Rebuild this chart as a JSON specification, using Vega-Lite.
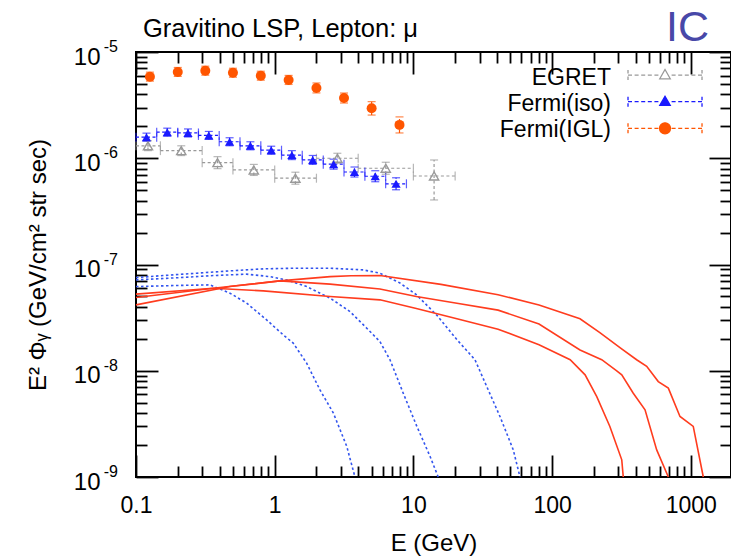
{
  "$schema": "https://vega.github.io/schema/vega-lite/v6.json",
  "width": 595,
  "height": 425,
  "autosize": {"type": "none"},
  "padding": {"left": 136, "top": 52, "right": 0, "bottom": 82},
  "background": "white",
  "config": {
    "font": "Liberation Sans",
    "view": {"stroke": "black", "strokeWidth": 2},
    "axis": {
      "grid": false,
      "domain": false,
      "labelFont": "Liberation Sans",
      "labelFontSize": 23,
      "labelColor": "black",
      "tickColor": "black",
      "tickWidth": 1.8,
      "titleFont": "Liberation Sans",
      "titleFontSize": 24,
      "titleFontWeight": "normal",
      "titleColor": "black",
      "labelFlush": false,
      "labelOverlap": false
    }
  },
  "datasets": {
    "pts": [
      {"series": "EGRET", "E": 0.122, "Elo": 0.1, "Ehi": 0.15, "F": 1.31e-6, "Flo": 1.18e-6, "Fhi": 1.46e-6},
      {"series": "EGRET", "E": 0.212, "Elo": 0.15, "Ehi": 0.3, "F": 1.18e-6, "Flo": 1.06e-6, "Fhi": 1.31e-6},
      {"series": "EGRET", "E": 0.387, "Elo": 0.3, "Ehi": 0.5, "F": 9.09e-7, "Flo": 7.98e-7, "Fhi": 1.035e-6},
      {"series": "EGRET", "E": 0.707, "Elo": 0.5, "Ehi": 1, "F": 7.76e-7, "Flo": 6.89e-7, "Fhi": 8.75e-7},
      {"series": "EGRET", "E": 1.41, "Elo": 1, "Ehi": 2, "F": 6.49e-7, "Flo": 5.7e-7, "Fhi": 7.39e-7},
      {"series": "EGRET", "E": 2.83, "Elo": 2, "Ehi": 4, "F": 1.0e-6, "Flo": 8.98e-7, "Fhi": 1.114e-6},
      {"series": "EGRET", "E": 6.32, "Elo": 4, "Ehi": 10, "F": 8.05e-7, "Flo": 7.07e-7, "Fhi": 9.17e-7},
      {"series": "EGRET", "E": 14.1, "Elo": 10, "Ehi": 20, "F": 6.81e-7, "Flo": 4.05e-7, "Fhi": 9.63e-7},
      {"series": "Fermi(iso)", "E": 0.119, "Elo": 0.1, "Ehi": 0.141, "F": 1.58e-6, "Flo": 1.449e-6, "Fhi": 1.723e-6},
      {"series": "Fermi(iso)", "E": 0.168, "Elo": 0.141, "Ehi": 0.2, "F": 1.76e-6, "Flo": 1.614e-6, "Fhi": 1.919e-6},
      {"series": "Fermi(iso)", "E": 0.237, "Elo": 0.2, "Ehi": 0.282, "F": 1.73e-6, "Flo": 1.586e-6, "Fhi": 1.887e-6},
      {"series": "Fermi(iso)", "E": 0.335, "Elo": 0.282, "Ehi": 0.398, "F": 1.64e-6, "Flo": 1.504e-6, "Fhi": 1.788e-6},
      {"series": "Fermi(iso)", "E": 0.473, "Elo": 0.398, "Ehi": 0.562, "F": 1.43e-6, "Flo": 1.311e-6, "Fhi": 1.559e-6},
      {"series": "Fermi(iso)", "E": 0.668, "Elo": 0.562, "Ehi": 0.794, "F": 1.31e-6, "Flo": 1.201e-6, "Fhi": 1.429e-6},
      {"series": "Fermi(iso)", "E": 0.944, "Elo": 0.794, "Ehi": 1.12, "F": 1.19e-6, "Flo": 1.091e-6, "Fhi": 1.298e-6},
      {"series": "Fermi(iso)", "E": 1.33, "Elo": 1.12, "Ehi": 1.58, "F": 1.07e-6, "Flo": 9.71e-7, "Fhi": 1.179e-6},
      {"series": "Fermi(iso)", "E": 1.88, "Elo": 1.58, "Ehi": 2.24, "F": 9.64e-7, "Flo": 8.75e-7, "Fhi": 1.062e-6},
      {"series": "Fermi(iso)", "E": 2.66, "Elo": 2.24, "Ehi": 3.16, "F": 8.8e-7, "Flo": 7.9e-7, "Fhi": 9.8e-7},
      {"series": "Fermi(iso)", "E": 3.76, "Elo": 3.16, "Ehi": 4.47, "F": 7.42e-7, "Flo": 6.66e-7, "Fhi": 8.27e-7},
      {"series": "Fermi(iso)", "E": 5.31, "Elo": 4.47, "Ehi": 6.31, "F": 6.77e-7, "Flo": 6.01e-7, "Fhi": 7.63e-7},
      {"series": "Fermi(iso)", "E": 7.5, "Elo": 6.31, "Ehi": 8.91, "F": 5.75e-7, "Flo": 5.05e-7, "Fhi": 6.55e-7},
      {"series": "Fermi(IGL)", "E": 0.126, "F": 5.86e-6, "Flo": 5.32e-6, "Fhi": 6.46e-6},
      {"series": "Fermi(IGL)", "E": 0.2, "F": 6.49e-6, "Flo": 5.89e-6, "Fhi": 7.15e-6},
      {"series": "Fermi(IGL)", "E": 0.316, "F": 6.67e-6, "Flo": 6.05e-6, "Fhi": 7.35e-6},
      {"series": "Fermi(IGL)", "E": 0.5, "F": 6.38e-6, "Flo": 5.79e-6, "Fhi": 7.03e-6},
      {"series": "Fermi(IGL)", "E": 0.794, "F": 5.98e-6, "Flo": 5.43e-6, "Fhi": 6.59e-6},
      {"series": "Fermi(IGL)", "E": 1.26, "F": 5.46e-6, "Flo": 4.95e-6, "Fhi": 6.02e-6},
      {"series": "Fermi(IGL)", "E": 2.0, "F": 4.59e-6, "Flo": 4.12e-6, "Fhi": 5.11e-6},
      {"series": "Fermi(IGL)", "E": 3.16, "F": 3.69e-6, "Flo": 3.31e-6, "Fhi": 4.11e-6},
      {"series": "Fermi(IGL)", "E": 5.0, "F": 2.95e-6, "Flo": 2.55e-6, "Fhi": 3.41e-6},
      {"series": "Fermi(IGL)", "E": 7.94, "F": 2.06e-6, "Flo": 1.73e-6, "Fhi": 2.45e-6}
    ],
    "curves": [
      {"curve": "bA", "kind": "blue", "E": 0.1, "F": 6.2e-8},
      {"curve": "bA", "kind": "blue", "E": 0.2, "F": 6.35e-8},
      {"curve": "bA", "kind": "blue", "E": 0.342, "F": 6.43e-8},
      {"curve": "bA", "kind": "blue", "E": 0.476, "F": 5.37e-8},
      {"curve": "bA", "kind": "blue", "E": 0.628, "F": 4.33e-8},
      {"curve": "bA", "kind": "blue", "E": 0.875, "F": 3.01e-8},
      {"curve": "bA", "kind": "blue", "E": 1.15, "F": 2.18e-8},
      {"curve": "bA", "kind": "blue", "E": 1.36, "F": 1.82e-8},
      {"curve": "bA", "kind": "blue", "E": 1.7, "F": 1.18e-8},
      {"curve": "bA", "kind": "blue", "E": 2.12, "F": 6.61e-9},
      {"curve": "bA", "kind": "blue", "E": 2.65, "F": 3.99e-9},
      {"curve": "bA", "kind": "blue", "E": 3.31, "F": 1.94e-9},
      {"curve": "bA", "kind": "blue", "E": 3.79, "F": 1.0e-9},
      {"curve": "bB", "kind": "blue", "E": 0.1, "F": 7.16e-8},
      {"curve": "bB", "kind": "blue", "E": 0.208, "F": 7.53e-8},
      {"curve": "bB", "kind": "blue", "E": 0.361, "F": 7.87e-8},
      {"curve": "bB", "kind": "blue", "E": 0.628, "F": 8.11e-8},
      {"curve": "bB", "kind": "blue", "E": 0.925, "F": 7.69e-8},
      {"curve": "bB", "kind": "blue", "E": 1.22, "F": 7.16e-8},
      {"curve": "bB", "kind": "blue", "E": 1.7, "F": 6.2e-8},
      {"curve": "bB", "kind": "blue", "E": 2.51, "F": 4.82e-8},
      {"curve": "bB", "kind": "blue", "E": 3.49, "F": 3.61e-8},
      {"curve": "bB", "kind": "blue", "E": 4.87, "F": 2.34e-8},
      {"curve": "bB", "kind": "blue", "E": 5.74, "F": 1.88e-8},
      {"curve": "bB", "kind": "blue", "E": 6.78, "F": 1.27e-8},
      {"curve": "bB", "kind": "blue", "E": 8.45, "F": 6.15e-9},
      {"curve": "bB", "kind": "blue", "E": 10.6, "F": 2.99e-9},
      {"curve": "bB", "kind": "blue", "E": 13.2, "F": 1.56e-9},
      {"curve": "bB", "kind": "blue", "E": 15.1, "F": 1.0e-9},
      {"curve": "bC", "kind": "blue", "E": 0.1, "F": 7.53e-8},
      {"curve": "bC", "kind": "blue", "E": 0.157, "F": 7.87e-8},
      {"curve": "bC", "kind": "blue", "E": 0.274, "F": 8.28e-8},
      {"curve": "bC", "kind": "blue", "E": 0.476, "F": 8.71e-8},
      {"curve": "bC", "kind": "blue", "E": 0.828, "F": 9.1e-8},
      {"curve": "bC", "kind": "blue", "E": 1.44, "F": 9.23e-8},
      {"curve": "bC", "kind": "blue", "E": 2.51, "F": 9.23e-8},
      {"curve": "bC", "kind": "blue", "E": 4.35, "F": 8.89e-8},
      {"curve": "bC", "kind": "blue", "E": 5.74, "F": 8.28e-8},
      {"curve": "bC", "kind": "blue", "E": 8.0, "F": 6.7e-8},
      {"curve": "bC", "kind": "blue", "E": 10.5, "F": 5.2e-8},
      {"curve": "bC", "kind": "blue", "E": 14.8, "F": 3.32e-8},
      {"curve": "bC", "kind": "blue", "E": 20.6, "F": 1.96e-8},
      {"curve": "bC", "kind": "blue", "E": 27.8, "F": 1.27e-8},
      {"curve": "bC", "kind": "blue", "E": 33.8, "F": 7.1e-9},
      {"curve": "bC", "kind": "blue", "E": 42.1, "F": 3.71e-9},
      {"curve": "bC", "kind": "blue", "E": 52.5, "F": 1.8e-9},
      {"curve": "bC", "kind": "blue", "E": 58.7, "F": 1.0e-9},
      {"curve": "rA", "kind": "red", "E": 0.1, "F": 5.26e-8},
      {"curve": "rA", "kind": "red", "E": 0.361, "F": 5.98e-8},
      {"curve": "rA", "kind": "red", "E": 0.828, "F": 5.65e-8},
      {"curve": "rA", "kind": "red", "E": 2.51, "F": 4.99e-8},
      {"curve": "rA", "kind": "red", "E": 5.74, "F": 4.65e-8},
      {"curve": "rA", "kind": "red", "E": 10.5, "F": 3.86e-8},
      {"curve": "rA", "kind": "red", "E": 20.6, "F": 3.08e-8},
      {"curve": "rA", "kind": "red", "E": 40.8, "F": 2.46e-8},
      {"curve": "rA", "kind": "red", "E": 80.5, "F": 1.76e-8},
      {"curve": "rA", "kind": "red", "E": 135, "F": 1.27e-8},
      {"curve": "rA", "kind": "red", "E": 173, "F": 9.15e-9},
      {"curve": "rA", "kind": "red", "E": 210, "F": 5.71e-9},
      {"curve": "rA", "kind": "red", "E": 261, "F": 2.99e-9},
      {"curve": "rA", "kind": "red", "E": 318, "F": 1.45e-9},
      {"curve": "rA", "kind": "red", "E": 326, "F": 1.0e-9},
      {"curve": "rB", "kind": "red", "E": 0.1, "F": 4.89e-8},
      {"curve": "rB", "kind": "red", "E": 0.361, "F": 5.98e-8},
      {"curve": "rB", "kind": "red", "E": 1.09, "F": 7.01e-8},
      {"curve": "rB", "kind": "red", "E": 2.51, "F": 6.53e-8},
      {"curve": "rB", "kind": "red", "E": 5.74, "F": 5.89e-8},
      {"curve": "rB", "kind": "red", "E": 10.5, "F": 5.0e-8},
      {"curve": "rB", "kind": "red", "E": 20.6, "F": 4.32e-8},
      {"curve": "rB", "kind": "red", "E": 40.8, "F": 3.72e-8},
      {"curve": "rB", "kind": "red", "E": 80.5, "F": 2.75e-8},
      {"curve": "rB", "kind": "red", "E": 159, "F": 1.57e-8},
      {"curve": "rB", "kind": "red", "E": 228, "F": 1.27e-8},
      {"curve": "rB", "kind": "red", "E": 291, "F": 1.005e-8},
      {"curve": "rB", "kind": "red", "E": 318, "F": 9.15e-9},
      {"curve": "rB", "kind": "red", "E": 385, "F": 6.15e-9},
      {"curve": "rB", "kind": "red", "E": 468, "F": 4.29e-9},
      {"curve": "rB", "kind": "red", "E": 568, "F": 1.8e-9},
      {"curve": "rB", "kind": "red", "E": 689, "F": 1.0e-9},
      {"curve": "rC", "kind": "red", "E": 0.1, "F": 4.17e-8},
      {"curve": "rC", "kind": "red", "E": 0.476, "F": 6.2e-8},
      {"curve": "rC", "kind": "red", "E": 1.09, "F": 7.01e-8},
      {"curve": "rC", "kind": "red", "E": 2.51, "F": 7.69e-8},
      {"curve": "rC", "kind": "red", "E": 3.55, "F": 7.83e-8},
      {"curve": "rC", "kind": "red", "E": 5.74, "F": 7.87e-8},
      {"curve": "rC", "kind": "red", "E": 15.8, "F": 6.5e-8},
      {"curve": "rC", "kind": "red", "E": 40.8, "F": 5.2e-8},
      {"curve": "rC", "kind": "red", "E": 80.5, "F": 4.15e-8},
      {"curve": "rC", "kind": "red", "E": 159, "F": 3.08e-8},
      {"curve": "rC", "kind": "red", "E": 221, "F": 2.28e-8},
      {"curve": "rC", "kind": "red", "E": 312, "F": 1.63e-8},
      {"curve": "rC", "kind": "red", "E": 407, "F": 1.27e-8},
      {"curve": "rC", "kind": "red", "E": 481, "F": 1.1e-8},
      {"curve": "rC", "kind": "red", "E": 583, "F": 7.91e-9},
      {"curve": "rC", "kind": "red", "E": 689, "F": 6.86e-9},
      {"curve": "rC", "kind": "red", "E": 836, "F": 3.71e-9},
      {"curve": "rC", "kind": "red", "E": 1042, "F": 2.99e-9},
      {"curve": "rC", "kind": "red", "E": 1231, "F": 1.0e-9}
    ],
    "exps": [
      {"v": 1e-9, "sup": "-9"},
      {"v": 1e-8, "sup": "-8"},
      {"v": 1e-7, "sup": "-7"},
      {"v": 1e-6, "sup": "-6"},
      {"v": 1e-5, "sup": "-5"}
    ],
    "legend": [
      {"series": "EGRET"},
      {"series": "Fermi(iso)"},
      {"series": "Fermi(IGL)"}
    ]
  },
  "layer": [
    {
      "data": {"name": "curves"},
      "transform": [{"filter": "datum.kind === 'blue'"}],
      "mark": {"type": "line", "strokeDash": [2.5, 2.5], "strokeWidth": 1.6, "color": "#3355ee"},
      "encoding": {
        "x": {
          "field": "E", "type": "quantitative",
          "scale": {"type": "log", "domain": [0.1, 1950], "nice": false},
          "axis": {
            "orient": "bottom",
            "values": [0.1, 0.2, 0.3, 0.4, 0.5, 0.6, 0.7, 0.8, 0.9, 1, 2, 3, 4, 5, 6, 7, 8, 9, 10, 20, 30, 40, 50, 60, 70, 80, 90, 100, 200, 300, 400, 500, 600, 700, 800, 900, 1000],
            "labelExpr": "abs(log(datum.value)/LN10 - round(log(datum.value)/LN10)) < 0.01 ? (datum.value < 0.5 ? '0.1' : format(datum.value, 'd')) : ''",
            "tickSize": {"condition": {"test": "abs(log(datum.value)/LN10 - round(log(datum.value)/LN10)) < 0.01", "value": -22}, "value": -11},
            "labelPadding": 39,
            "labelBaseline": "top",
            "title": "E (GeV)",
            "titleX": 297.5,
            "titleY": 73,
            "titleAlign": "center",
            "titleBaseline": "alphabetic"
          }
        },
        "y": {
          "field": "F", "type": "quantitative",
          "scale": {"type": "log", "domain": [1e-9, 1e-5], "nice": false},
          "axis": {
            "orient": "left",
            "values": [1e-9, 2e-9, 3e-9, 4e-9, 5e-9, 6e-9, 7e-9, 8e-9, 9e-9, 1e-8, 2e-8, 3e-8, 4e-8, 5e-8, 6e-8, 7e-8, 8e-8, 9e-8, 1e-7, 2e-7, 3e-7, 4e-7, 5e-7, 6e-7, 7e-7, 8e-7, 9e-7, 1e-6, 2e-6, 3e-6, 4e-6, 5e-6, 6e-6, 7e-6, 8e-6, 9e-6, 1e-5],
            "labelExpr": "abs(log(datum.value)/LN10 - round(log(datum.value)/LN10)) < 0.01 ? '10' : ''",
            "tickSize": {"condition": {"test": "abs(log(datum.value)/LN10 - round(log(datum.value)/LN10)) < 0.01", "value": -22}, "value": -11},
            "labelPadding": 58,
            "labelBaseline": "alphabetic",
            "labelOffset": 12,
            "labelFontSize": 24,
            "title": "E² Φᵧ (GeV/cm² str sec)",
            "titleX": -91,
            "titleY": 212.5,
            "titleAngle": -90,
            "titleAlign": "center",
            "titleBaseline": "alphabetic"
          }
        },
        "detail": {"field": "curve"}
      }
    },
    {
      "data": {"name": "curves"},
      "transform": [{"filter": "datum.kind === 'red'"}],
      "mark": {"type": "line", "strokeWidth": 1.6, "color": "#ff3c1e"},
      "encoding": {
        "x": {
          "field": "E", "type": "quantitative",
          "scale": {"type": "log", "domain": [0.1, 1950], "nice": false},
          "axis": {
            "orient": "top",
            "values": [0.1, 0.2, 0.3, 0.4, 0.5, 0.6, 0.7, 0.8, 0.9, 1, 2, 3, 4, 5, 6, 7, 8, 9, 10, 20, 30, 40, 50, 60, 70, 80, 90, 100, 200, 300, 400, 500, 600, 700, 800, 900, 1000],
            "labels": false,
            "title": null,
            "tickSize": {"condition": {"test": "abs(log(datum.value)/LN10 - round(log(datum.value)/LN10)) < 0.01", "value": -22}, "value": -11}
          }
        },
        "y": {
          "field": "F", "type": "quantitative",
          "scale": {"type": "log", "domain": [1e-9, 1e-5], "nice": false},
          "axis": {
            "orient": "right",
            "values": [1e-9, 2e-9, 3e-9, 4e-9, 5e-9, 6e-9, 7e-9, 8e-9, 9e-9, 1e-8, 2e-8, 3e-8, 4e-8, 5e-8, 6e-8, 7e-8, 8e-8, 9e-8, 1e-7, 2e-7, 3e-7, 4e-7, 5e-7, 6e-7, 7e-7, 8e-7, 9e-7, 1e-6, 2e-6, 3e-6, 4e-6, 5e-6, 6e-6, 7e-6, 8e-6, 9e-6, 1e-5],
            "labels": false,
            "title": null,
            "tickSize": {"condition": {"test": "abs(log(datum.value)/LN10 - round(log(datum.value)/LN10)) < 0.01", "value": -22}, "value": -11}
          }
        },
        "detail": {"field": "curve"}
      }
    },
    {
      "data": {"name": "pts"},
      "transform": [{"filter": "isValid(datum.Elo)"}],
      "mark": {"type": "rule", "strokeDash": [3, 2.5], "strokeWidth": 1.2},
      "encoding": {
        "x": {"field": "Elo", "type": "quantitative", "scale": {"type": "log", "domain": [0.1, 1950], "nice": false}, "axis": null},
        "x2": {"field": "Ehi"},
        "y": {"field": "F", "type": "quantitative", "scale": {"type": "log", "domain": [1e-9, 1e-5], "nice": false}, "axis": null},
        "color": {"field": "series", "type": "nominal", "scale": {"domain": ["EGRET", "Fermi(iso)", "Fermi(IGL)"], "range": ["#999999", "#1a1aff", "#ff5500"]}, "legend": null}
      }
    },
    {
      "data": {"name": "pts"},
      "mark": {"type": "rule", "strokeDash": [3, 2.5], "strokeWidth": 1.2},
      "encoding": {
        "x": {"field": "E", "type": "quantitative", "scale": {"type": "log", "domain": [0.1, 1950], "nice": false}, "axis": null},
        "y": {"field": "Flo", "type": "quantitative", "scale": {"type": "log", "domain": [1e-9, 1e-5], "nice": false}, "axis": null},
        "y2": {"field": "Fhi"},
        "color": {"field": "series", "type": "nominal", "scale": {"domain": ["EGRET", "Fermi(iso)", "Fermi(IGL)"], "range": ["#999999", "#1a1aff", "#ff5500"]}, "legend": null}
      }
    },
    {
      "data": {"name": "pts"},
      "transform": [{"filter": "isValid(datum.Elo)"}],
      "mark": {"type": "tick", "orient": "vertical", "size": 9, "thickness": 1.2},
      "encoding": {
        "x": {"field": "Elo", "type": "quantitative", "scale": {"type": "log", "domain": [0.1, 1950], "nice": false}, "axis": null},
        "y": {"field": "F", "type": "quantitative", "scale": {"type": "log", "domain": [1e-9, 1e-5], "nice": false}, "axis": null},
        "color": {"field": "series", "type": "nominal", "scale": {"domain": ["EGRET", "Fermi(iso)", "Fermi(IGL)"], "range": ["#999999", "#1a1aff", "#ff5500"]}, "legend": null}
      }
    },
    {
      "data": {"name": "pts"},
      "transform": [{"filter": "isValid(datum.Elo)"}],
      "mark": {"type": "tick", "orient": "vertical", "size": 9, "thickness": 1.2},
      "encoding": {
        "x": {"field": "Ehi", "type": "quantitative", "scale": {"type": "log", "domain": [0.1, 1950], "nice": false}, "axis": null},
        "y": {"field": "F", "type": "quantitative", "scale": {"type": "log", "domain": [1e-9, 1e-5], "nice": false}, "axis": null},
        "color": {"field": "series", "type": "nominal", "scale": {"domain": ["EGRET", "Fermi(iso)", "Fermi(IGL)"], "range": ["#999999", "#1a1aff", "#ff5500"]}, "legend": null}
      }
    },
    {
      "data": {"name": "pts"},
      "mark": {"type": "tick", "orient": "horizontal", "size": 8, "thickness": 1.2},
      "encoding": {
        "x": {"field": "E", "type": "quantitative", "scale": {"type": "log", "domain": [0.1, 1950], "nice": false}, "axis": null},
        "y": {"field": "Flo", "type": "quantitative", "scale": {"type": "log", "domain": [1e-9, 1e-5], "nice": false}, "axis": null},
        "color": {"field": "series", "type": "nominal", "scale": {"domain": ["EGRET", "Fermi(iso)", "Fermi(IGL)"], "range": ["#999999", "#1a1aff", "#ff5500"]}, "legend": null}
      }
    },
    {
      "data": {"name": "pts"},
      "mark": {"type": "tick", "orient": "horizontal", "size": 8, "thickness": 1.2},
      "encoding": {
        "x": {"field": "E", "type": "quantitative", "scale": {"type": "log", "domain": [0.1, 1950], "nice": false}, "axis": null},
        "y": {"field": "Fhi", "type": "quantitative", "scale": {"type": "log", "domain": [1e-9, 1e-5], "nice": false}, "axis": null},
        "color": {"field": "series", "type": "nominal", "scale": {"domain": ["EGRET", "Fermi(iso)", "Fermi(IGL)"], "range": ["#999999", "#1a1aff", "#ff5500"]}, "legend": null}
      }
    },
    {
      "data": {"name": "pts"},
      "transform": [{"filter": "datum.series === 'EGRET'"}],
      "mark": {"type": "point", "shape": "triangle-up", "filled": false, "size": 85, "strokeWidth": 1.4, "color": "#999999", "opacity": 1},
      "encoding": {
        "x": {"field": "E", "type": "quantitative", "scale": {"type": "log", "domain": [0.1, 1950], "nice": false}, "axis": null},
        "y": {"field": "F", "type": "quantitative", "scale": {"type": "log", "domain": [1e-9, 1e-5], "nice": false}, "axis": null}
      }
    },
    {
      "data": {"name": "pts"},
      "transform": [{"filter": "datum.series === 'Fermi(iso)'"}],
      "mark": {"type": "point", "shape": "triangle-up", "filled": true, "size": 85, "color": "#1a1aff", "opacity": 1},
      "encoding": {
        "x": {"field": "E", "type": "quantitative", "scale": {"type": "log", "domain": [0.1, 1950], "nice": false}, "axis": null},
        "y": {"field": "F", "type": "quantitative", "scale": {"type": "log", "domain": [1e-9, 1e-5], "nice": false}, "axis": null}
      }
    },
    {
      "data": {"name": "pts"},
      "transform": [{"filter": "datum.series === 'Fermi(IGL)'"}],
      "mark": {"type": "point", "shape": "circle", "filled": true, "size": 100, "color": "#ff5500", "opacity": 1},
      "encoding": {
        "x": {"field": "E", "type": "quantitative", "scale": {"type": "log", "domain": [0.1, 1950], "nice": false}, "axis": null},
        "y": {"field": "F", "type": "quantitative", "scale": {"type": "log", "domain": [1e-9, 1e-5], "nice": false}, "axis": null}
      }
    },
    {
      "data": {"name": "legend"},
      "transform": [{"filter": "datum.series === 'EGRET'"}],
      "mark": {"type": "point", "filled": false, "size": 100, "strokeWidth": 1.3, "stroke": "#999999", "opacity": 1,
        "shape": "M-7.4,-1V-0.3M-7.4,0.3V1M7.4,-1V-0.3M7.4,0.3V1M-7.4,0H-6.6M-6.08,0H-5.28M-4.76,0H-3.96M-3.44,0H-2.64M-2.12,0H-1.32M1.32,0H2.12M2.64,0H3.44M3.96,0H4.76M5.28,0H6.08M6.6,0H7.4M0,-1.1L1.05,0.75L-1.05,0.75Z"},
      "encoding": {
        "x": {"datum": 652, "type": "quantitative", "scale": {"type": "log", "domain": [0.1, 1950], "nice": false}, "axis": null},
        "y": {"datum": 6.07e-6, "type": "quantitative", "scale": {"type": "log", "domain": [1e-9, 1e-5], "nice": false}, "axis": null}
      }
    },
    {
      "data": {"name": "legend"},
      "transform": [{"filter": "datum.series === 'Fermi(iso)'"}],
      "mark": {"type": "point", "filled": true, "size": 100, "strokeWidth": 1.3, "stroke": "#1a1aff", "fill": "#1a1aff", "opacity": 1,
        "shape": "M-7.4,-1V-0.3M-7.4,0.3V1M7.4,-1V-0.3M7.4,0.3V1M-7.4,0H-6.6M-6.08,0H-5.28M-4.76,0H-3.96M-3.44,0H-2.64M-2.12,0H-1.32M1.32,0H2.12M2.64,0H3.44M3.96,0H4.76M5.28,0H6.08M6.6,0H7.4M0,-1.1L1.05,0.75L-1.05,0.75Z"},
      "encoding": {
        "x": {"datum": 652, "type": "quantitative", "scale": {"type": "log", "domain": [0.1, 1950], "nice": false}, "axis": null},
        "y": {"datum": 3.405e-6, "type": "quantitative", "scale": {"type": "log", "domain": [1e-9, 1e-5], "nice": false}, "axis": null}
      }
    },
    {
      "data": {"name": "legend"},
      "transform": [{"filter": "datum.series === 'Fermi(IGL)'"}],
      "mark": {"type": "point", "filled": true, "size": 100, "strokeWidth": 1.3, "stroke": "#ff5500", "fill": "#ff5500", "opacity": 1,
        "shape": "M-7.4,-1V-0.3M-7.4,0.3V1M7.4,-1V-0.3M7.4,0.3V1M-7.4,0H-6.6M-6.08,0H-5.28M-4.76,0H-3.96M-3.44,0H-2.64M-2.12,0H-1.32M1.32,0H2.12M2.64,0H3.44M3.96,0H4.76M5.28,0H6.08M6.6,0H7.4M1.1,0A1.1,1.1,0,1,1,-1.1,0A1.1,1.1,0,1,1,1.1,0Z"},
      "encoding": {
        "x": {"datum": 652, "type": "quantitative", "scale": {"type": "log", "domain": [0.1, 1950], "nice": false}, "axis": null},
        "y": {"datum": 1.914e-6, "type": "quantitative", "scale": {"type": "log", "domain": [1e-9, 1e-5], "nice": false}, "axis": null}
      }
    },
    {
      "data": {"name": "legend"},
      "transform": [{"filter": "datum.series === 'EGRET'"}],
      "mark": {"type": "text", "align": "right", "baseline": "alphabetic", "fontSize": 23, "font": "Liberation Sans", "color": "black"},
      "encoding": {
        "x": {"datum": 265.9, "type": "quantitative", "scale": {"type": "log", "domain": [0.1, 1950], "nice": false}, "axis": null},
        "y": {"datum": 4.89e-6, "type": "quantitative", "scale": {"type": "log", "domain": [1e-9, 1e-5], "nice": false}, "axis": null},
        "text": {"field": "series"}
      }
    },
    {
      "data": {"name": "legend"},
      "transform": [{"filter": "datum.series === 'Fermi(iso)'"}],
      "mark": {"type": "text", "align": "right", "baseline": "alphabetic", "fontSize": 23, "font": "Liberation Sans", "color": "black"},
      "encoding": {
        "x": {"datum": 265.9, "type": "quantitative", "scale": {"type": "log", "domain": [0.1, 1950], "nice": false}, "axis": null},
        "y": {"datum": 2.785e-6, "type": "quantitative", "scale": {"type": "log", "domain": [1e-9, 1e-5], "nice": false}, "axis": null},
        "text": {"field": "series"}
      }
    },
    {
      "data": {"name": "legend"},
      "transform": [{"filter": "datum.series === 'Fermi(IGL)'"}],
      "mark": {"type": "text", "align": "right", "baseline": "alphabetic", "fontSize": 23, "font": "Liberation Sans", "color": "black"},
      "encoding": {
        "x": {"datum": 265.9, "type": "quantitative", "scale": {"type": "log", "domain": [0.1, 1950], "nice": false}, "axis": null},
        "y": {"datum": 1.568e-6, "type": "quantitative", "scale": {"type": "log", "domain": [1e-9, 1e-5], "nice": false}, "axis": null},
        "text": {"field": "series"}
      }
    },
    {
      "data": {"name": "exps"},
      "mark": {"type": "text", "align": "right", "baseline": "alphabetic", "dx": -18, "fontSize": 16, "font": "Liberation Sans", "color": "black"},
      "encoding": {
        "x": {"datum": 0.1, "type": "quantitative", "scale": {"type": "log", "domain": [0.1, 1950], "nice": false}, "axis": null},
        "y": {"field": "v", "type": "quantitative", "scale": {"type": "log", "domain": [1e-9, 1e-5], "nice": false}, "axis": null},
        "text": {"field": "sup"}
      }
    },
    {
      "data": {"values": [{"label": "Gravitino LSP, Lepton: μ"}]},
      "mark": {"type": "text", "fontSize": 25.5, "font": "Liberation Sans", "color": "black", "align": "left", "baseline": "alphabetic", "dx": 7},
      "encoding": {
        "x": {"datum": 0.1, "type": "quantitative", "scale": {"type": "log", "domain": [0.1, 1950], "nice": false}, "axis": null},
        "y": {"datum": 1.384e-5, "type": "quantitative", "scale": {"type": "log", "domain": [1e-9, 1e-5], "nice": false}, "axis": null},
        "text": {"field": "label"}
      }
    },
    {
      "data": {"values": [{"label": "IC"}]},
      "mark": {"type": "text", "fontSize": 43, "font": "Liberation Sans", "color": "#4848a8", "align": "center", "baseline": "alphabetic"},
      "encoding": {
        "x": {"datum": 946, "type": "quantitative", "scale": {"type": "log", "domain": [0.1, 1950], "nice": false}, "axis": null},
        "y": {"datum": 1.276e-5, "type": "quantitative", "scale": {"type": "log", "domain": [1e-9, 1e-5], "nice": false}, "axis": null},
        "text": {"field": "label"}
      }
    }
  ],
  "resolve": {"axis": {"x": "independent", "y": "independent"}}
}
